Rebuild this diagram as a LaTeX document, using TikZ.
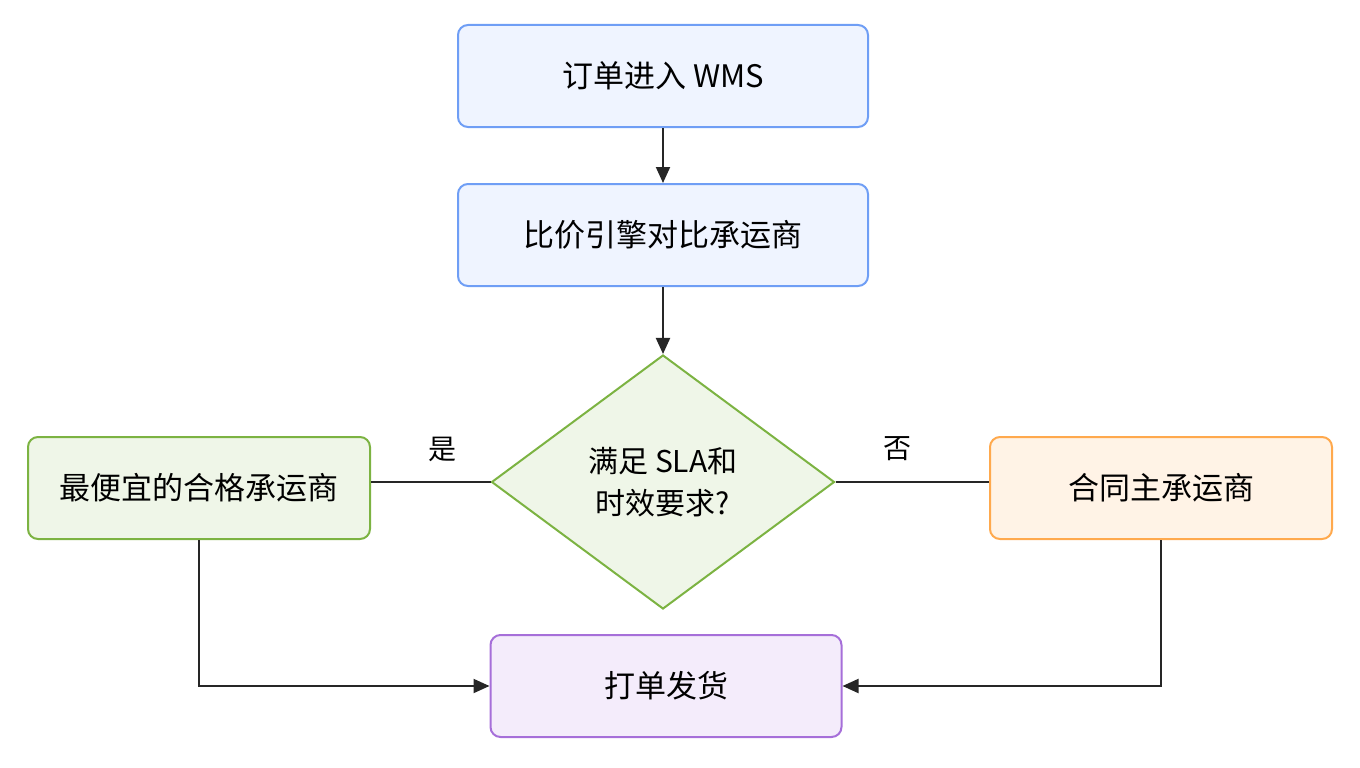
\documentclass[tikz,border=0pt]{standalone}
\usepackage{fontspec}
\setmainfont{Noto Sans CJK SC}
\usetikzlibrary{shapes.geometric,arrows.meta}
\definecolor{bluefill}{HTML}{EFF4FF}
\definecolor{blueline}{HTML}{6F9EF5}
\definecolor{greenfill}{HTML}{EFF6E8}
\definecolor{greenline}{HTML}{7CB342}
\definecolor{orangefill}{HTML}{FFF3E6}
\definecolor{orangeline}{HTML}{FFA94D}
\definecolor{purplefill}{HTML}{F4ECFB}
\definecolor{purpleline}{HTML}{A66FD9}
\tikzset{
  box/.style={rectangle,rounded corners=10pt,line width=2pt,minimum height=102pt,align=center,font=\fontsize{31}{36}\selectfont},
  bluebox/.style={box,fill=bluefill,draw=blueline,minimum width=410pt},
  greenbox/.style={box,fill=greenfill,draw=greenline,minimum width=342pt},
  orangebox/.style={box,fill=orangefill,draw=orangeline,minimum width=342pt},
  purplebox/.style={box,fill=purplefill,draw=purpleline,minimum width=351pt},
  check/.style={diamond,fill=greenfill,draw=greenline,line width=2pt,minimum width=343pt,minimum height=254pt,inner sep=0pt,align=center,font=\fontsize{30}{42}\selectfont},
  link/.style={line width=2pt,draw=black!85},
  arrow/.style={link,-{Triangle[length=16pt,width=14pt]}}
}
\begin{document}
\begin{tikzpicture}[x=1pt,y=-1pt]
  \useasboundingbox (0,0) rectangle (1360,768);

  \node[bluebox] (wms) at (663,76) {订单进入 WMS};
  \node[bluebox] (compare) at (663,235) {比价引擎对比承运商};
  \node[check] (sla) at (663,482) {满足 SLA和\\时效要求?};
  \node[greenbox] (cheap) at (199,488) {最便宜的合格承运商};
  \node[orangebox] (main) at (1161,488) {合同主承运商};
  \node[purplebox] (ship) at (666,686) {打单发货};

  \draw[arrow] (wms) -- (compare);
  \draw[arrow] (compare) -- (sla);
  \draw[link] (sla.west) -- (cheap.east |- sla.west);
  \draw[link] (sla.east) -- (main.west |- sla.east);
  \node[font=\fontsize{28}{32}\selectfont] (yes) at (442,449) {是};
  \node[font=\fontsize{28}{32}\selectfont] (no) at (897,449) {否};
  \draw[arrow] (cheap.south) |- (ship.west);
  \draw[arrow] (main.south) |- (ship.east);
\end{tikzpicture}
\end{document}
